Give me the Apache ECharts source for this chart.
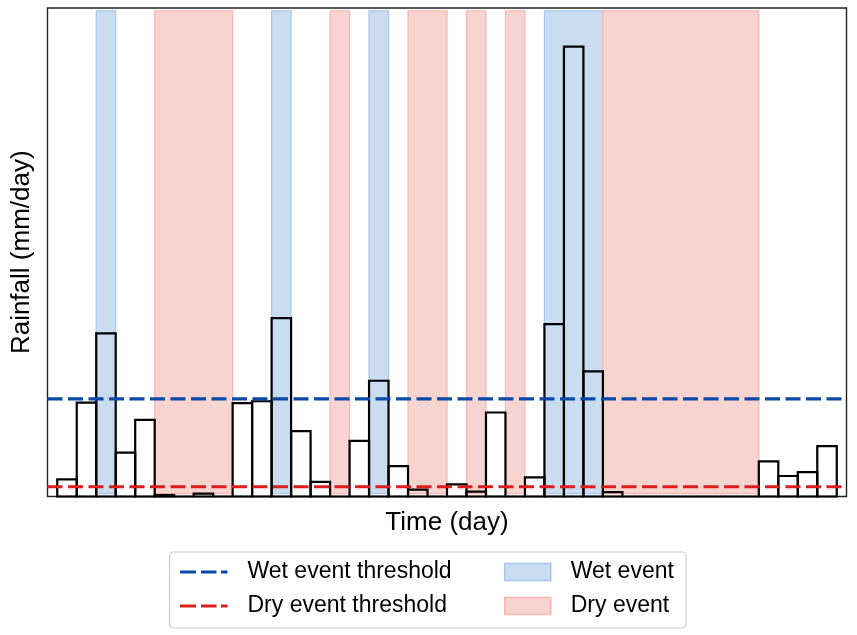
<!DOCTYPE html>
<html>
<head>
<meta charset="utf-8">
<script src="https://cdn.jsdelivr.net/npm/echarts@6/dist/echarts.min.js"></script>
<style>
html,body{margin:0;padding:0;background:#fff;}
#chart{width:857px;height:635px;}
</style>
</head>
<body>
<div id="chart"></div>
<script>
// Daily rainfall (arbitrary mm/day units), days 0..39
const days = [0,1,2,3,4,5,6,7,8,9,10,11,12,13,14,15,16,17,18,19,20,21,22,23,24,25,26,27,28,29,30,31,32,33,34,35,36,37,38,39];
const rainfall = [3.5,19.2,33.4,9.0,15.7,0.3,0,0.6,0,19.1,19.5,36.5,13.4,3.0,0,11.4,23.7,6.2,1.4,0,2.5,1.0,17.2,0,3.9,35.3,92.1,25.6,0.9,0,0,0,0,0,0,0,7.2,4.2,5.0,10.3];
// Event spans: [first day, last day]
const wetSpans = [[2,2],[11,11],[16,16],[25,27]];
const drySpans = [[5,8],[14,14],[18,19],[21,21],[23,23],[28,35]];
// Thresholds
const wetThreshold = 20;
const dryThreshold = 2;
const xRange = [-1, 40];
const yRange = [0, 100];

const FONT = '"Liberation Sans", Arial, Helvetica, sans-serif';
const BLUE = '#0848a8';
const RED = '#dd1c1c';
const WET_FILL = '#cadcf0', WET_EDGE = '#a8c6e9';
const DRY_FILL = '#f8d4d0', DRY_EDGE = '#f4b7b2';
const dashIcon = 'path://M0,0h16v3h-16z M21,0h15.5v3h-15.5z M41,0h6.5v3h-6.5z';

function spanRender(fill, edge) {
  return function (params, api) {
    const a = api.coord([api.value(0) - 0.5, 99.4]);
    const b = api.coord([api.value(1) + 0.5, 0.6]);
    return {
      type: 'rect',
      shape: {x: a[0], y: a[1], width: b[0] - a[0], height: b[1] - a[1]},
      style: {fill: fill, stroke: edge, lineWidth: 1.2}
    };
  };
}

const chart = echarts.init(document.getElementById('chart'), null, {renderer: 'canvas'});
chart.setOption({
  animation: false,
  backgroundColor: '#fff',
  textStyle: {fontFamily: FONT},
  grid: {left: 47.5, right: 10.5, top: 8, bottom: 138.5, show: true, borderColor: '#222', borderWidth: 1.4, backgroundColor: 'transparent'},
  xAxis: {
    type: 'value', min: xRange[0], max: xRange[1],
    axisLine: {show: false}, axisTick: {show: false}, axisLabel: {show: false}, splitLine: {show: false},
    name: 'Time (day)', nameLocation: 'middle', nameGap: 13,
    nameTextStyle: {fontSize: 26, color: '#000', fontFamily: FONT}
  },
  yAxis: {
    type: 'value', min: yRange[0], max: yRange[1],
    axisLine: {show: false}, axisTick: {show: false}, axisLabel: {show: false}, splitLine: {show: false},
    name: 'Rainfall (mm/day)', nameLocation: 'middle', nameGap: 13,
    nameTextStyle: {fontSize: 26, color: '#000', fontFamily: FONT}
  },
  graphic: [{
    type: 'rect', z: 1,
    shape: {x: 169.5, y: 552, width: 516.5, height: 76, r: 4},
    style: {fill: '#fff', stroke: '#cccccc', lineWidth: 1.2}
  }],
  legend: [{
    orient: 'vertical', left: 180, top: 560, padding: 0, itemGap: 10,
    itemWidth: 47.5, itemHeight: 3, selectedMode: false,
    textStyle: {fontSize: 23, color: '#000', lineHeight: 24, padding: [0, 0, 0, 15], fontFamily: FONT},
    data: [
      {name: 'Wet event threshold', icon: dashIcon, itemStyle: {color: BLUE, borderWidth: 0}},
      {name: 'Dry event threshold', icon: dashIcon, itemStyle: {color: RED, borderWidth: 0}}
    ]
  }, {
    orient: 'vertical', left: 504, top: 560, padding: 0, itemGap: 10,
    itemWidth: 46, itemHeight: 17, selectedMode: false,
    textStyle: {fontSize: 23, color: '#000', lineHeight: 24, padding: [0, 0, 0, 15], fontFamily: FONT},
    data: [
      {name: 'Wet event', icon: 'rect', itemStyle: {color: WET_FILL, borderColor: WET_EDGE, borderWidth: 1.5}},
      {name: 'Dry event', icon: 'rect', itemStyle: {color: DRY_FILL, borderColor: DRY_EDGE, borderWidth: 1.5}}
    ]
  }],
  series: [
    {
      name: 'Wet event', type: 'custom', z: 1, silent: true,
      itemStyle: {color: WET_FILL},
      data: wetSpans, encode: {x: [0, 1]},
      renderItem: spanRender(WET_FILL, WET_EDGE)
    },
    {
      name: 'Dry event', type: 'custom', z: 1, silent: true,
      itemStyle: {color: DRY_FILL},
      data: drySpans, encode: {x: [0, 1]},
      renderItem: spanRender(DRY_FILL, DRY_EDGE)
    },
    {
      name: 'Rainfall', type: 'custom', z: 2, silent: true,
      data: days.map((d, i) => [d, rainfall[i]]),
      encode: {x: 0, y: 1},
      renderItem: function (params, api) {
        const x = api.value(0), y = api.value(1);
        const p0 = api.coord([x - 0.5, 0]);
        const p1 = api.coord([x + 0.5, y]);
        return {
          type: 'rect',
          shape: {x: p0[0], y: p1[1], width: p1[0] - p0[0], height: p0[1] - p1[1]},
          style: {fill: 'none', stroke: '#000', lineWidth: 2.2}
        };
      }
    },
    {
      name: 'Wet event threshold', type: 'line', z: 3, silent: true,
      symbol: 'none', itemStyle: {color: BLUE},
      lineStyle: {color: BLUE, width: 3.2, type: [15, 5.5]},
      data: [[xRange[0], wetThreshold], [xRange[1], wetThreshold]]
    },
    {
      name: 'Dry event threshold', type: 'line', z: 3, silent: true,
      symbol: 'none', itemStyle: {color: RED},
      lineStyle: {color: RED, width: 3.2, type: [15, 5.5]},
      data: [[xRange[0], dryThreshold], [xRange[1], dryThreshold]]
    }
  ]
});
</script>
</body>
</html>
